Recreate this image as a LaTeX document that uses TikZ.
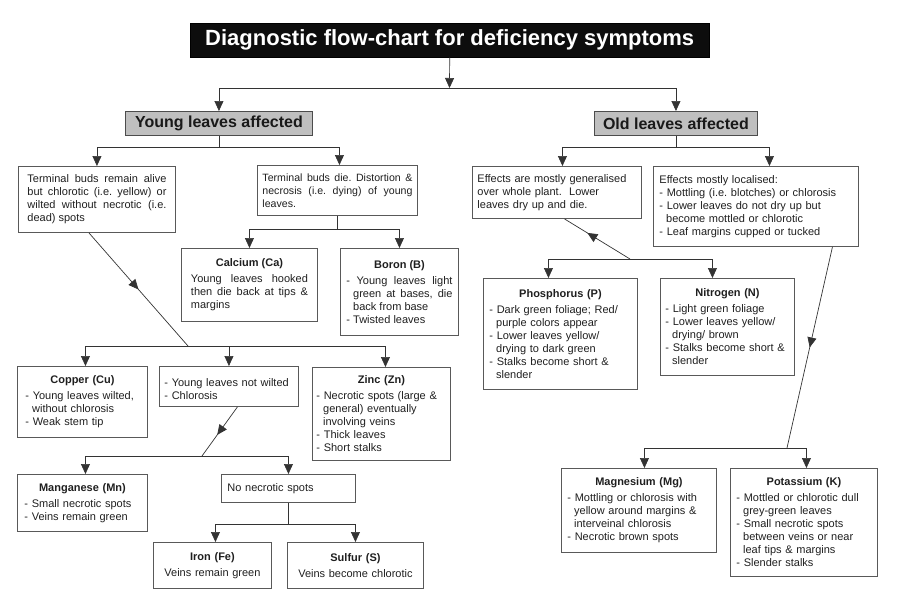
\documentclass[tikz,border=0pt]{standalone}
\usepackage{fontspec}
\setmainfont{Liberation Sans}
\usetikzlibrary{arrows.meta,decorations.markings}
\setlength{\parindent}{0pt}
\frenchspacing
% heading line and dash items inside the boxes
\newcommand\hd[1]{{\centering\bfseries #1\par}\vspace{3pt}}
\newcommand\itm[1]{\par\hangindent=0.61em\hangafter=1 -\ #1\par}

\begin{document}
\begin{tikzpicture}[x=1pt,y=-1pt,
  box/.style={draw=black!65,line width=0.9pt,anchor=north west,inner xsep=4pt,inner ysep=3pt,
    align=left,text=black!88,font=\fontsize{11}{13}\selectfont},
  tag/.style={draw=black!70,line width=0.9pt,fill=black!25,anchor=north west,inner sep=0pt,
    text=black!90,font=\fontsize{16}{18}\selectfont\bfseries},
  ln/.style={draw=black!80,line width=0.7pt},
  arr/.style={ln,-{Triangle[width=9pt,length=10pt]}},
  midarr/.style={ln,postaction={decorate},decoration={markings,
    mark=at position #1 with {\arrow{Triangle[width=9pt,length=10pt]}}}},
  backarr/.style={ln,postaction={decorate},decoration={markings,
    mark=at position #1 with {\arrowreversed{Triangle[width=9pt,length=10pt]}}}}]

\useasboundingbox (0,0) rectangle (900,613);

% title and the two main groups
\node[anchor=north west,fill=black!95,draw=black,minimum width=519pt,minimum height=34pt,inner sep=0pt,
  text=white,font=\fontsize{22}{24}\selectfont\bfseries] (title) at (190,23) {Diagnostic flow-chart for deficiency symptoms};
\node[tag,minimum width=187pt,minimum height=24pt] (young) at (125,111) {Young leaves affected};
\node[tag,minimum width=163pt,minimum height=24pt] (old) at (594,111) {Old leaves affected};

% young leaves side
\node[box,align=justify,inner xsep=9pt,text width=139pt,minimum height=66pt] (tb1) at (18,166)
  {Terminal buds remain alive \linebreak but chlorotic (i.e. yellow) or \linebreak wilted without necrotic (i.e. \linebreak dead) spots};
\node[box,align=justify,inner xsep=5pt,text width=150pt,minimum height=50pt,font=\fontsize{10.6}{13}\selectfont] (tb2) at (257,165)
  {Terminal buds die. Distortion \& \linebreak necrosis (i.e. dying) of young \linebreak leaves.};
\node[box,align=justify,inner xsep=9.5pt,text width=117pt,minimum height=73pt] (ca) at (181,248)
  {\hd{Calcium (Ca)}Young leaves hooked \linebreak then die back at tips \& \linebreak margins};
\node[box,align=justify,inner xsep=6pt,text width=106pt,minimum height=87pt] (bo) at (340,248)
  {\hd{Boron (B)}\itm{Young leaves light \linebreak green at bases, die \linebreak back from base}\itm{Twisted leaves}};
\node[box,inner xsep=8pt,text width=114pt,minimum height=71pt] (cu) at (17,366)
  {\hd{Copper (Cu)}\itm{Young leaves wilted,\newline without chlorosis}\itm{Weak stem tip}};
\node[box,inner xsep=5pt,text width=129pt,minimum height=40pt] (mid) at (159,366)
  {\itm{Young leaves not wilted}\itm{Chlorosis}};
\node[box,text width=130pt,minimum height=93pt] (zn) at (312,367)
  {\hd{Zinc (Zn)}\itm{Necrotic spots (large \&\newline general) eventually\newline involving veins}\itm{Thick leaves}\itm{Short stalks}};
\node[box,inner xsep=7pt,text width=116pt,minimum height=57pt] (mn) at (17,474)
  {\hd{Manganese (Mn)}\itm{Small necrotic spots}\itm{Veins remain green}};
\node[box,inner xsep=6pt,text width=122pt,minimum height=28pt] (nn) at (221,474) {No necrotic spots};
\node[box,align=center,text width=110pt,minimum height=46pt] (fe) at (153,542)
  {\hd{Iron (Fe)}Veins remain green};
\node[box,align=center,text width=128pt,minimum height=46pt] (su) at (287,542)
  {\hd{Sulfur (S)}Veins become chlorotic};

% old leaves side
\node[box,inner xsep=5pt,text width=159pt,minimum height=52pt] (gen) at (472,166)
  {Effects are mostly generalised\newline over whole plant.\ \ Lower\newline leaves dry up and die.};
\node[box,inner xsep=6pt,text width=193pt,minimum height=80pt] (loc) at (653,166)
  {Effects mostly localised:\itm{Mottling (i.e. blotches) or chlorosis}\itm{Lower leaves do not dry up but\newline become mottled or chlorotic}\itm{Leaf margins cupped or tucked}};
\node[box,inner xsep=6pt,text width=142pt,minimum height=111pt] (ph) at (483,278)
  {\hd{Phosphorus (P)}\itm{Dark green foliage; Red/\newline purple colors appear}\itm{Lower leaves yellow/\newline drying to dark green}\itm{Stalks become short \&\newline slender}};
\node[box,inner xsep=5pt,text width=124pt,minimum height=97pt] (ni) at (660,278)
  {\hd{Nitrogen (N)}\itm{Light green foliage}\itm{Lower leaves yellow/\newline drying/ brown}\itm{Stalks become short \&\newline slender}};
\node[box,inner xsep=6pt,text width=143pt,minimum height=84pt] (mg) at (561,468)
  {\hd{Magnesium (Mg)}\itm{Mottling or chlorosis with\newline yellow around margins \&\newline interveinal chlorosis}\itm{Necrotic brown spots}};
\node[box,inner xsep=6pt,text width=135pt,minimum height=108pt] (ka) at (730,468)
  {\hd{Potassium (K)}\itm{Mottled or chlorotic dull\newline grey-green leaves}\itm{Small necrotic spots\newline between veins or near\newline leaf tips \& margins}\itm{Slender stalks}};

% junction points
\coordinate (j1) at (449.5,88);
\coordinate (jc) at (188,346);
\coordinate (jm) at (202,456);
\coordinate (jg) at (630,259);
\coordinate (jl) at (787,448);

% connectors
\draw[arr] (title.south) -- (j1);
\draw[arr] (j1) -| (young.north);
\draw[arr] (j1) -| (old.north);

\draw[ln] (young.south) -- ++(0,11) coordinate (jy);
\draw[arr] (jy) -| (tb1.north);
\draw[arr] (jy) -| ([xshift=2pt]tb2.north);
\draw[ln] (tb2.south) -- ++(0,13) coordinate (jt);
\draw[arr] (jt) -| (ca.north);
\draw[arr] (jt) -| (bo.north);
\draw[midarr=0.5] ([xshift=-8pt]tb1.south) -- (jc);
\draw[arr] (jc) -| ([xshift=3pt]cu.north);
\draw[arr] (jc) -| (mid.north);
\draw[arr] (jc) -| ([xshift=4pt]zn.north);
\draw[midarr=0.57] ([xshift=8.5pt]mid.south) -- (jm);
\draw[arr] (jm) -| ([xshift=3pt]mn.north);
\draw[arr] (jm) -| (nn.north);
\draw[ln] (nn.south) -- ++(0,21) coordinate (jn);
\draw[arr] (jn) -| ([xshift=3pt]fe.north);
\draw[arr] (jn) -| (su.north);

\draw[ln] (old.south) -- ++(0,11) coordinate (jo);
\draw[arr] (jo) -| ([xshift=5.5pt]gen.north);
\draw[arr] (jo) -| ([xshift=13.5pt]loc.north);
\draw[backarr=0.35] ([xshift=7.5pt]gen.south) -- (jg);
\draw[arr] (jg) -| ([xshift=-12pt]ph.north);
\draw[arr] (jg) -| ([xshift=-15pt]ni.north);
\draw[midarr=0.5] ([xshift=76.5pt]loc.south) -- (jl);
\draw[arr] (jl) -| ([xshift=5.5pt]mg.north);
\draw[arr] (jl) -| ([xshift=2.5pt]ka.north);
\end{tikzpicture}
\end{document}
